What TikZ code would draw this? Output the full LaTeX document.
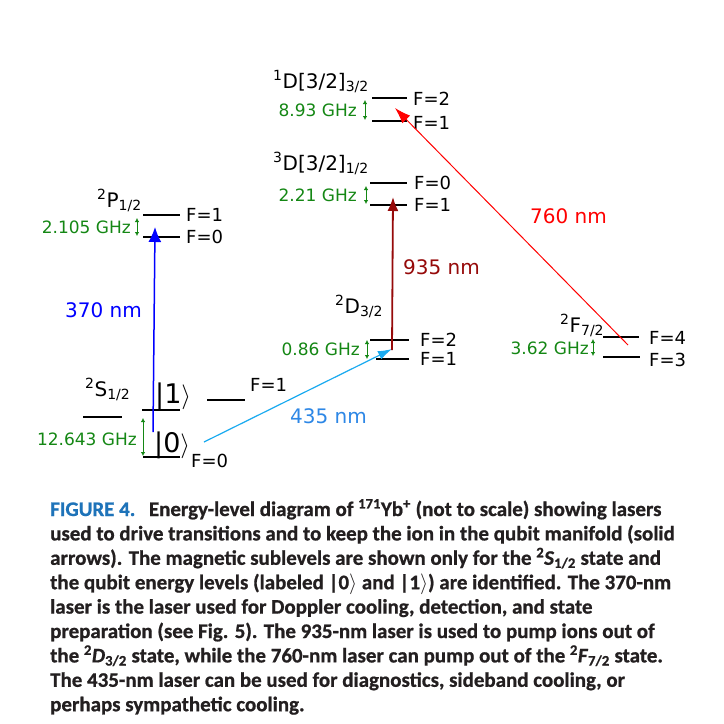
\documentclass[tikz,border=0pt]{standalone}
\usepackage{fontspec}
\setmainfont{DejaVu Sans}
\newfontfamily\capfont[FakeBold=0.8,FakeStretch=1.012]{Carlito}
\usetikzlibrary{arrows.meta}
\definecolor{ggreen}{RGB}{20,135,20}
\definecolor{lblue}{RGB}{0,0,255}
\definecolor{cyanarr}{RGB}{25,170,240}
\definecolor{cyantxt}{RGB}{45,135,230}
\definecolor{dred}{RGB}{150,10,10}
\definecolor{rred}{RGB}{255,0,0}
\definecolor{capblue}{RGB}{30,115,185}
\definecolor{captext}{RGB}{35,31,32}
\tikzset{
  lev/.style={line width=1.2pt, black},
  gap/.style={ggreen, line width=0.9pt, {Latex[length=4pt,width=4.5pt]}-{Latex[length=4pt,width=4.5pt]}},
  flab/.style={font=\fontsize{18}{21}\selectfont, inner sep=0pt, anchor=west},
  ghz/.style={font=\fontsize{17}{20}\selectfont, text=ggreen, inner sep=0pt, anchor=east},
  term/.style={font=\fontsize{20}{24}\selectfont, inner sep=0pt, anchor=base west},
  wl/.style={font=\fontsize{20}{24}\selectfont, inner sep=0pt, anchor=west},
  ket/.style={font=\fontsize{27}{30}\selectfont, inner sep=0pt, anchor=base west},
  capline/.style={font=\capfont\bfseries\fontsize{20.7}{24}\selectfont, text=captext, inner sep=0pt, anchor=base west}
}
\begin{document}
\begin{tikzpicture}[x=1pt,y=-1pt]
\useasboundingbox[fill=white] (0,0) rectangle (724,724);

% ---------- 2P1/2 ----------
\coordinate (p1a) at (143,215); \coordinate (p1b) at (180,215);
\coordinate (p0a) at (143,237); \coordinate (p0b) at (180,237);
\draw[lev] (p1a) -- (p1b);
\draw[lev] (p0a) -- (p0b);
\node[flab] (pF1) at (186,215) {F=1};
\node[flab] (pF0) at (186,237) {F=0};
\coordinate (pg1) at (137,218); \coordinate (pg2) at (137,236);
\draw[gap] (pg1) -- (pg2);
\node[ghz] (pghz) at (131,227) {2.105 GHz};
\node[term] (pterm) at (97,207) {\textsuperscript{2}P\textsubscript{1/2}};

% ---------- 2S1/2 ----------
\coordinate (sla) at (83,417); \coordinate (slb) at (122,417);
\coordinate (s1a) at (142,410); \coordinate (s1b) at (180,410);
\coordinate (sra) at (207,400); \coordinate (srb) at (245,400);
\coordinate (s0a) at (143,457); \coordinate (s0b) at (180,457);
\draw[lev] (sla) -- (slb);
\draw[lev] (s1a) -- (s1b);
\draw[lev] (sra) -- (srb);
\draw[lev, line width=1.8pt] (s0a) -- (s0b);
\node[ket] (k1) at (155,403) {|1\ensuremath{\rangle}};
\node[ket] (k0) at (154,452) {|0\ensuremath{\rangle}};
\node[flab] (sF1) at (250,385) {F=1};
\node[flab] (sF0) at (191,461) {F=0};
\coordinate (sg1) at (143,418); \coordinate (sg2) at (143,456);
\draw[gap] (sg1) -- (sg2);
\node[ghz] (sghz) at (137,439) {12.643 GHz};
\node[term] (sterm) at (85,396) {\textsuperscript{2}S\textsubscript{1/2}};

% ---------- 2D3/2 ----------
\coordinate (d2a) at (370,340); \coordinate (d2b) at (409,340);
\coordinate (d1a) at (376,359); \coordinate (d1b) at (409,359);
\draw[lev] (d2a) -- (d2b);
\draw[lev] (d1a) -- (d1b);
\node[flab] (dF2) at (420,340) {F=2};
\node[flab] (dF1) at (420,359) {F=1};
\coordinate (dg1) at (367,340); \coordinate (dg2) at (367,359);
\draw[gap] (dg1) -- (dg2);
\node[ghz] (dghz) at (360,349) {0.86 GHz};
\node[term] (dterm) at (335,313) {\textsuperscript{2}D\textsubscript{3/2}};

% ---------- 3D[3/2]1/2 ----------
\coordinate (t0a) at (370,183); \coordinate (t0b) at (407,183);
\coordinate (t1a) at (370,205); \coordinate (t1b) at (407,205);
\draw[lev] (t0a) -- (t0b);
\draw[lev] (t1a) -- (t1b);
\node[flab] (tF0) at (414,183) {F=0};
\node[flab] (tF1) at (414,205) {F=1};
\coordinate (tg1) at (366,186); \coordinate (tg2) at (366,204);
\draw[gap] (tg1) -- (tg2);
\node[ghz] (tghz) at (357,195) {2.21 GHz};
\node[term] (tterm) at (273,170) {\textsuperscript{3}D[3/2]\textsubscript{1/2}};

% ---------- 1D[3/2]3/2 ----------
\coordinate (o2a) at (372,98); \coordinate (o2b) at (407,98);
\coordinate (o1a) at (372,121); \coordinate (o1b) at (407,121);
\draw[lev] (o2a) -- (o2b);
\draw[lev] (o1a) -- (o1b);
\node[flab] (oF2) at (413,99) {F=2};
\node[flab] (oF1) at (413,123) {F=1};
\coordinate (og1) at (365,100); \coordinate (og2) at (365,120);
\draw[gap] (og1) -- (og2);
\node[ghz] (oghz) at (357,110) {8.93 GHz};
\node[term] (oterm) at (273,88) {\textsuperscript{1}D[3/2]\textsubscript{3/2}};

% ---------- 2F7/2 ----------
\coordinate (f4a) at (603,337); \coordinate (f4b) at (639,337);
\coordinate (f3a) at (603,357); \coordinate (f3b) at (640,357);
\draw[lev] (f4a) -- (f4b);
\draw[lev] (f3a) -- (f3b);
\node[flab] (fF4) at (649,338) {F=4};
\node[flab] (fF3) at (649,360) {F=3};
\coordinate (fg1) at (593,339); \coordinate (fg2) at (593,356);
\draw[gap] (fg1) -- (fg2);
\node[ghz] (fghz) at (589,348) {3.62 GHz};
\node[term] (fterm) at (560,332) {\textsuperscript{2}F\textsubscript{7/2}};

% ---------- lasers ----------
\coordinate (b0) at (153,432); \coordinate (b1) at (155,227);
\draw[lblue, line width=1.5pt, -{Latex[length=15pt,width=13pt]}] (b0) -- (b1);
\node[wl, text=lblue] (l370) at (65,310) {370 nm};

\coordinate (c0) at (204,442); \coordinate (c1) at (392,349);
\draw[cyanarr, line width=1.2pt, -{Latex[length=14pt,width=9pt]}] (c0) -- (c1);
\node[wl, text=cyantxt] (l435) at (290,416) {435 nm};

\coordinate (r0) at (392,350); \coordinate (r1) at (393,197);
\draw[dred, line width=1.8pt, -{Latex[length=14pt,width=11pt]}] (r0) -- (r1);
\node[wl, text=dred] (l935) at (403,267) {935 nm};

\coordinate (e0) at (628,345); \coordinate (e1) at (395,108);
\draw[rred, line width=1pt, -{Latex[length=16pt,width=11pt]}] (e0) -- (e1);
\node[wl, text=rred] (l760) at (530,216) {760 nm};

% ---------- caption ----------
\node[capline] (cap1) at (50,516) {{\color{capblue}FIGURE 4.}\hspace{0.35em} Energy-level diagram of \textsuperscript{171}Yb\textsuperscript{+} (not to scale) showing lasers};
\node[capline] (cap2) at (50,540.4) {used to drive transitions and to keep the ion in the qubit manifold (solid};
\node[capline] (cap3) at (50,564.8) {arrows). The magnetic sublevels are shown only for the \textsuperscript{2}\textit{S}\textsubscript{1/2} state and};
\node[capline] (cap4) at (50,589.2) {the qubit energy levels (labeled |0\ensuremath{\rangle} and |1\ensuremath{\rangle}) are identified. The 370-nm};
\node[capline] (cap5) at (50,613.6) {laser is the laser used for Doppler cooling, detection, and state};
\node[capline] (cap6) at (50,638) {preparation (see Fig. 5). The 935-nm laser is used to pump ions out of};
\node[capline] (cap7) at (50,662.4) {the \textsuperscript{2}\textit{D}\textsubscript{3/2} state, while the 760-nm laser can pump out of the \textsuperscript{2}\textit{F}\textsubscript{7/2} state.};
\node[capline] (cap8) at (50,686.8) {The 435-nm laser can be used for diagnostics, sideband cooling, or};
\node[capline] (cap9) at (50,711.2) {perhaps sympathetic cooling.};
\end{tikzpicture}
\end{document}
